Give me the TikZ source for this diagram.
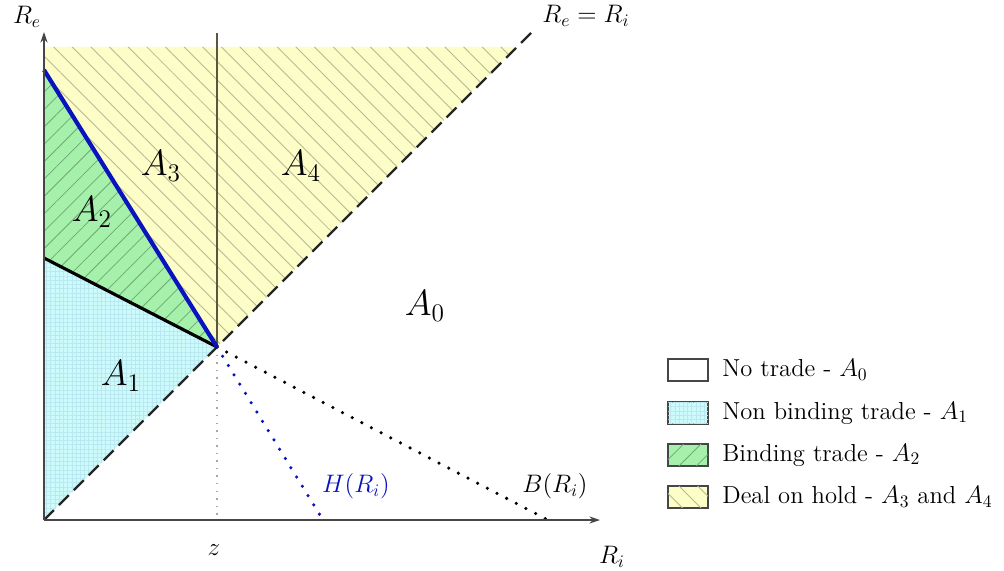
\documentclass[tikz,border=0pt]{standalone}
\usetikzlibrary{patterns.meta,arrows.meta}
\definecolor{yel}{RGB}{253,253,200}
\definecolor{yelh}{RGB}{185,185,145}
\definecolor{grn}{RGB}{165,240,170}
\definecolor{grnh}{RGB}{110,170,115}
\definecolor{cyn}{RGB}{205,250,250}
\definecolor{cynh}{RGB}{185,232,240}
\definecolor{dblue}{RGB}{10,20,190}
\definecolor{axisc}{RGB}{70,70,70}
\begin{document}
\begin{tikzpicture}[x=0.02cm,y=-0.02cm,
  yelfill/.style={fill=yel},
  yelhatch/.style={pattern={Lines[angle=-45,distance=7.5pt,line width=0.5pt]},pattern color=yelh},
  grnfill/.style={fill=grn},
  grnhatch/.style={pattern={Lines[angle=45,distance=7pt,line width=0.45pt]},pattern color=grnh},
  cynfill/.style={fill=cyn},
  cynhatch/.style={pattern={Hatch[angle=0,distance=2.4pt,line width=0.15pt]},pattern color=cynh},
  axis/.style={draw=axisc,line width=0.8pt,-{Stealth[length=6pt,width=4pt]}},
  lbl/.style={font=\huge},
  small/.style={font=\fontsize{14.5}{17}\selectfont},
  legbox/.style={draw=axisc,line width=0.8pt,minimum width=40*0.02cm,minimum height=22*0.02cm,inner sep=0pt},
  legtxt/.style={anchor=west,font=\fontsize{14}{17}\selectfont,inner sep=0pt},
  dots/.style={line width=2pt,line cap=round,dash pattern=on 0pt off 6.2pt}
]
\useasboundingbox (0,0) rectangle (1004,571);
\coordinate (O) at (44,520);
\coordinate (P) at (217,347);
\coordinate (T) at (44,70);
\coordinate (M) at (44,258);
\coordinate (TL) at (44,47);
\coordinate (TR) at (517,47);
\coordinate (Hx) at (323,520);
\coordinate (Bx) at (548,520);
\coordinate (Xend) at (600,520);
\coordinate (Yend) at (44,32);
\coordinate (Dend) at (531,33);
\coordinate (Vtop) at (217,33);
\coordinate (Zb) at (217,520);
% regions
\fill[yelfill] (TL) -- (TR) -- (P) -- (T) -- cycle;
\fill[yelhatch] (TL) -- (TR) -- (P) -- (T) -- cycle;
\fill[grnfill] (T) -- (P) -- (M) -- cycle;
\fill[grnhatch] (T) -- (P) -- (M) -- cycle;
\fill[cynfill] (M) -- (P) -- (O) -- cycle;
\fill[cynhatch] (M) -- (P) -- (O) -- cycle;
% lines
\draw[gray!70,line width=0.8pt,dash pattern=on 0.8pt off 3.5pt] (P) -- (Zb);
\draw[black!85,line width=1.3pt,dash pattern=on 8pt off 4pt] (O) -- (Dend);
\draw[black!60!olive!80!gray,line width=1.2pt] (P) -- (Vtop);
\draw[black,line width=1.8pt] (M) -- (P);
\draw[dblue,line width=2.4pt] (T) -- (P);
\draw[dots,black] (P) -- (Bx);
\draw[dots,dblue] (P) -- (Hx);
\draw[axis] (O) -- (Xend);
\draw[axis] (O) -- (Yend);
% labels
\node[small] (re) at (27,17) {$R_e$};
\node[small] (rr) at (586,16) {$R_e=R_i$};
\node[small] (ri) at (612,557) {$R_i$};
\node[small] (z) at (214,550) {$z$};
\node[small,text=dblue] (h) at (356,486) {$H(R_i)$};
\node[small] (b) at (555,486) {$B(R_i)$};
\node[lbl] (a0) at (425,306) {$A_0$};
\node[lbl] (a1) at (121,376) {$A_1$};
\node[lbl] (a2) at (92,212) {$A_2$};
\node[lbl] (a3) at (161,166) {$A_3$};
\node[lbl] (a4) at (301,166) {$A_4$};
% legend
\node[legbox,fill=white] (l0) at (688,370) {};
\node[legbox,cynfill] (l1) at (688,413) {};
\fill[cynhatch] (l1.south west) rectangle (l1.north east);
\node[legbox,grnfill] (l2) at (688,455) {};
\fill[grnhatch] (l2.south west) rectangle (l2.north east);
\node[legbox,yelfill] (l3) at (688,497) {};
\fill[yelhatch] (l3.south west) rectangle (l3.north east);
\draw[axisc,line width=0.8pt] (l1.south west) rectangle (l1.north east);
\draw[axisc,line width=0.8pt] (l2.south west) rectangle (l2.north east);
\draw[axisc,line width=0.8pt] (l3.south west) rectangle (l3.north east);
\node[legtxt] (t0) at (722,370) {No trade - $A_0$};
\node[legtxt] (t1) at (722,413) {Non binding trade - $A_1$};
\node[legtxt] (t2) at (722,455) {Binding trade - $A_2$};
\node[legtxt] (t3) at (722,497) {Deal on hold - $A_3$ and $A_4$};
\end{tikzpicture}
\end{document}
